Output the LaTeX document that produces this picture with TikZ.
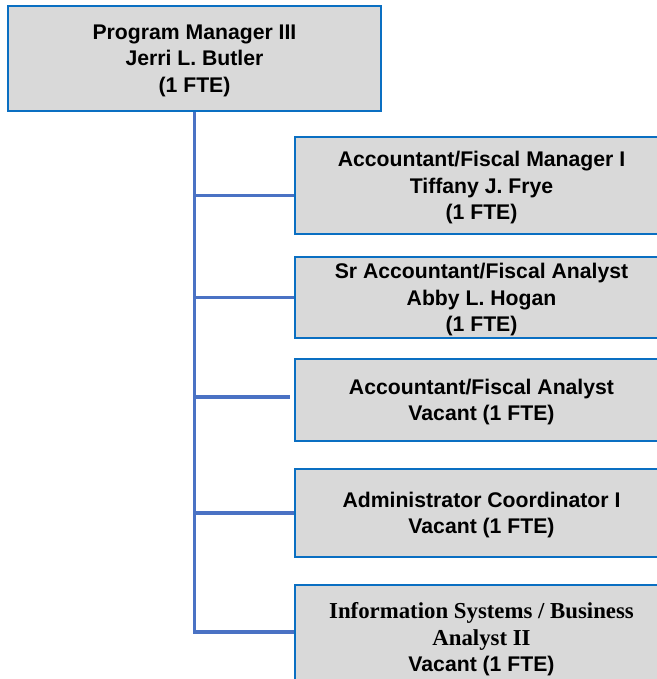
\documentclass[tikz,border=0pt]{standalone}
\usepackage{fontspec}
\setmainfont{Liberation Sans}
\newfontfamily\bookserif{Liberation Serif}
\usetikzlibrary{positioning}

\definecolor{boxblue}{HTML}{0A6FC2}
\definecolor{linkblue}{HTML}{4A72C4}
\definecolor{boxgray}{HTML}{D9D9D9}

\tikzset{
  post/.style={draw=boxblue, line width=2.2pt, fill=boxgray, minimum width=373pt,
    inner sep=0pt, align=center, text depth=-3pt,
    font=\fontsize{21.2}{26.3}\selectfont\bfseries},
  link/.style={draw=linkblue, line width=3.5pt}
}

\begin{document}
\begin{tikzpicture}[x=1pt, y=-1pt]
 \useasboundingbox (0,0) rectangle (656,679);

 \node[post, name=pm, minimum height=105pt] at (194.5,58.5)
   {Program Manager III\\Jerri L. Butler\\(1 FTE)};
 \node[post, name=afm, minimum height=97pt] at (481.5,185.5)
   {Accountant/Fiscal Manager I\\Tiffany J. Frye\\(1 FTE)};
 \node[post, name=sfa, minimum height=81pt] at (481.5,297.5)
   {Sr Accountant/Fiscal Analyst\\Abby L. Hogan\\(1 FTE)};
 \node[post, name=afa, minimum height=82pt] at (481.5,400)
   {Accountant/Fiscal Analyst\\Vacant (1 FTE)};
 \node[post, name=adc, minimum height=88pt] at (481.5,513)
   {Administrator Coordinator I\\Vacant (1 FTE)};
 \node[post, name=isba, minimum height=104pt] at (481.5,637)
   {{\bookserif\fontsize{22.8}{26.3}\selectfont Information Systems / Business}\\
    {\bookserif\fontsize{22.8}{26.3}\selectfont Analyst II}\\Vacant (1 FTE)};

 % trunk and branches
 \draw[link] ([yshift=5pt]isba.west) -| (pm.south);
 \draw[link] ([yshift=-10pt]afm.west) -| (pm.south);
 \draw[link] (sfa.west) -| (pm.south);
 \draw[link] ([xshift=-4pt, yshift=3pt]afa.west) -| (pm.south);
 \draw[link] (adc.west) -| (pm.south);
\end{tikzpicture}
\end{document}
